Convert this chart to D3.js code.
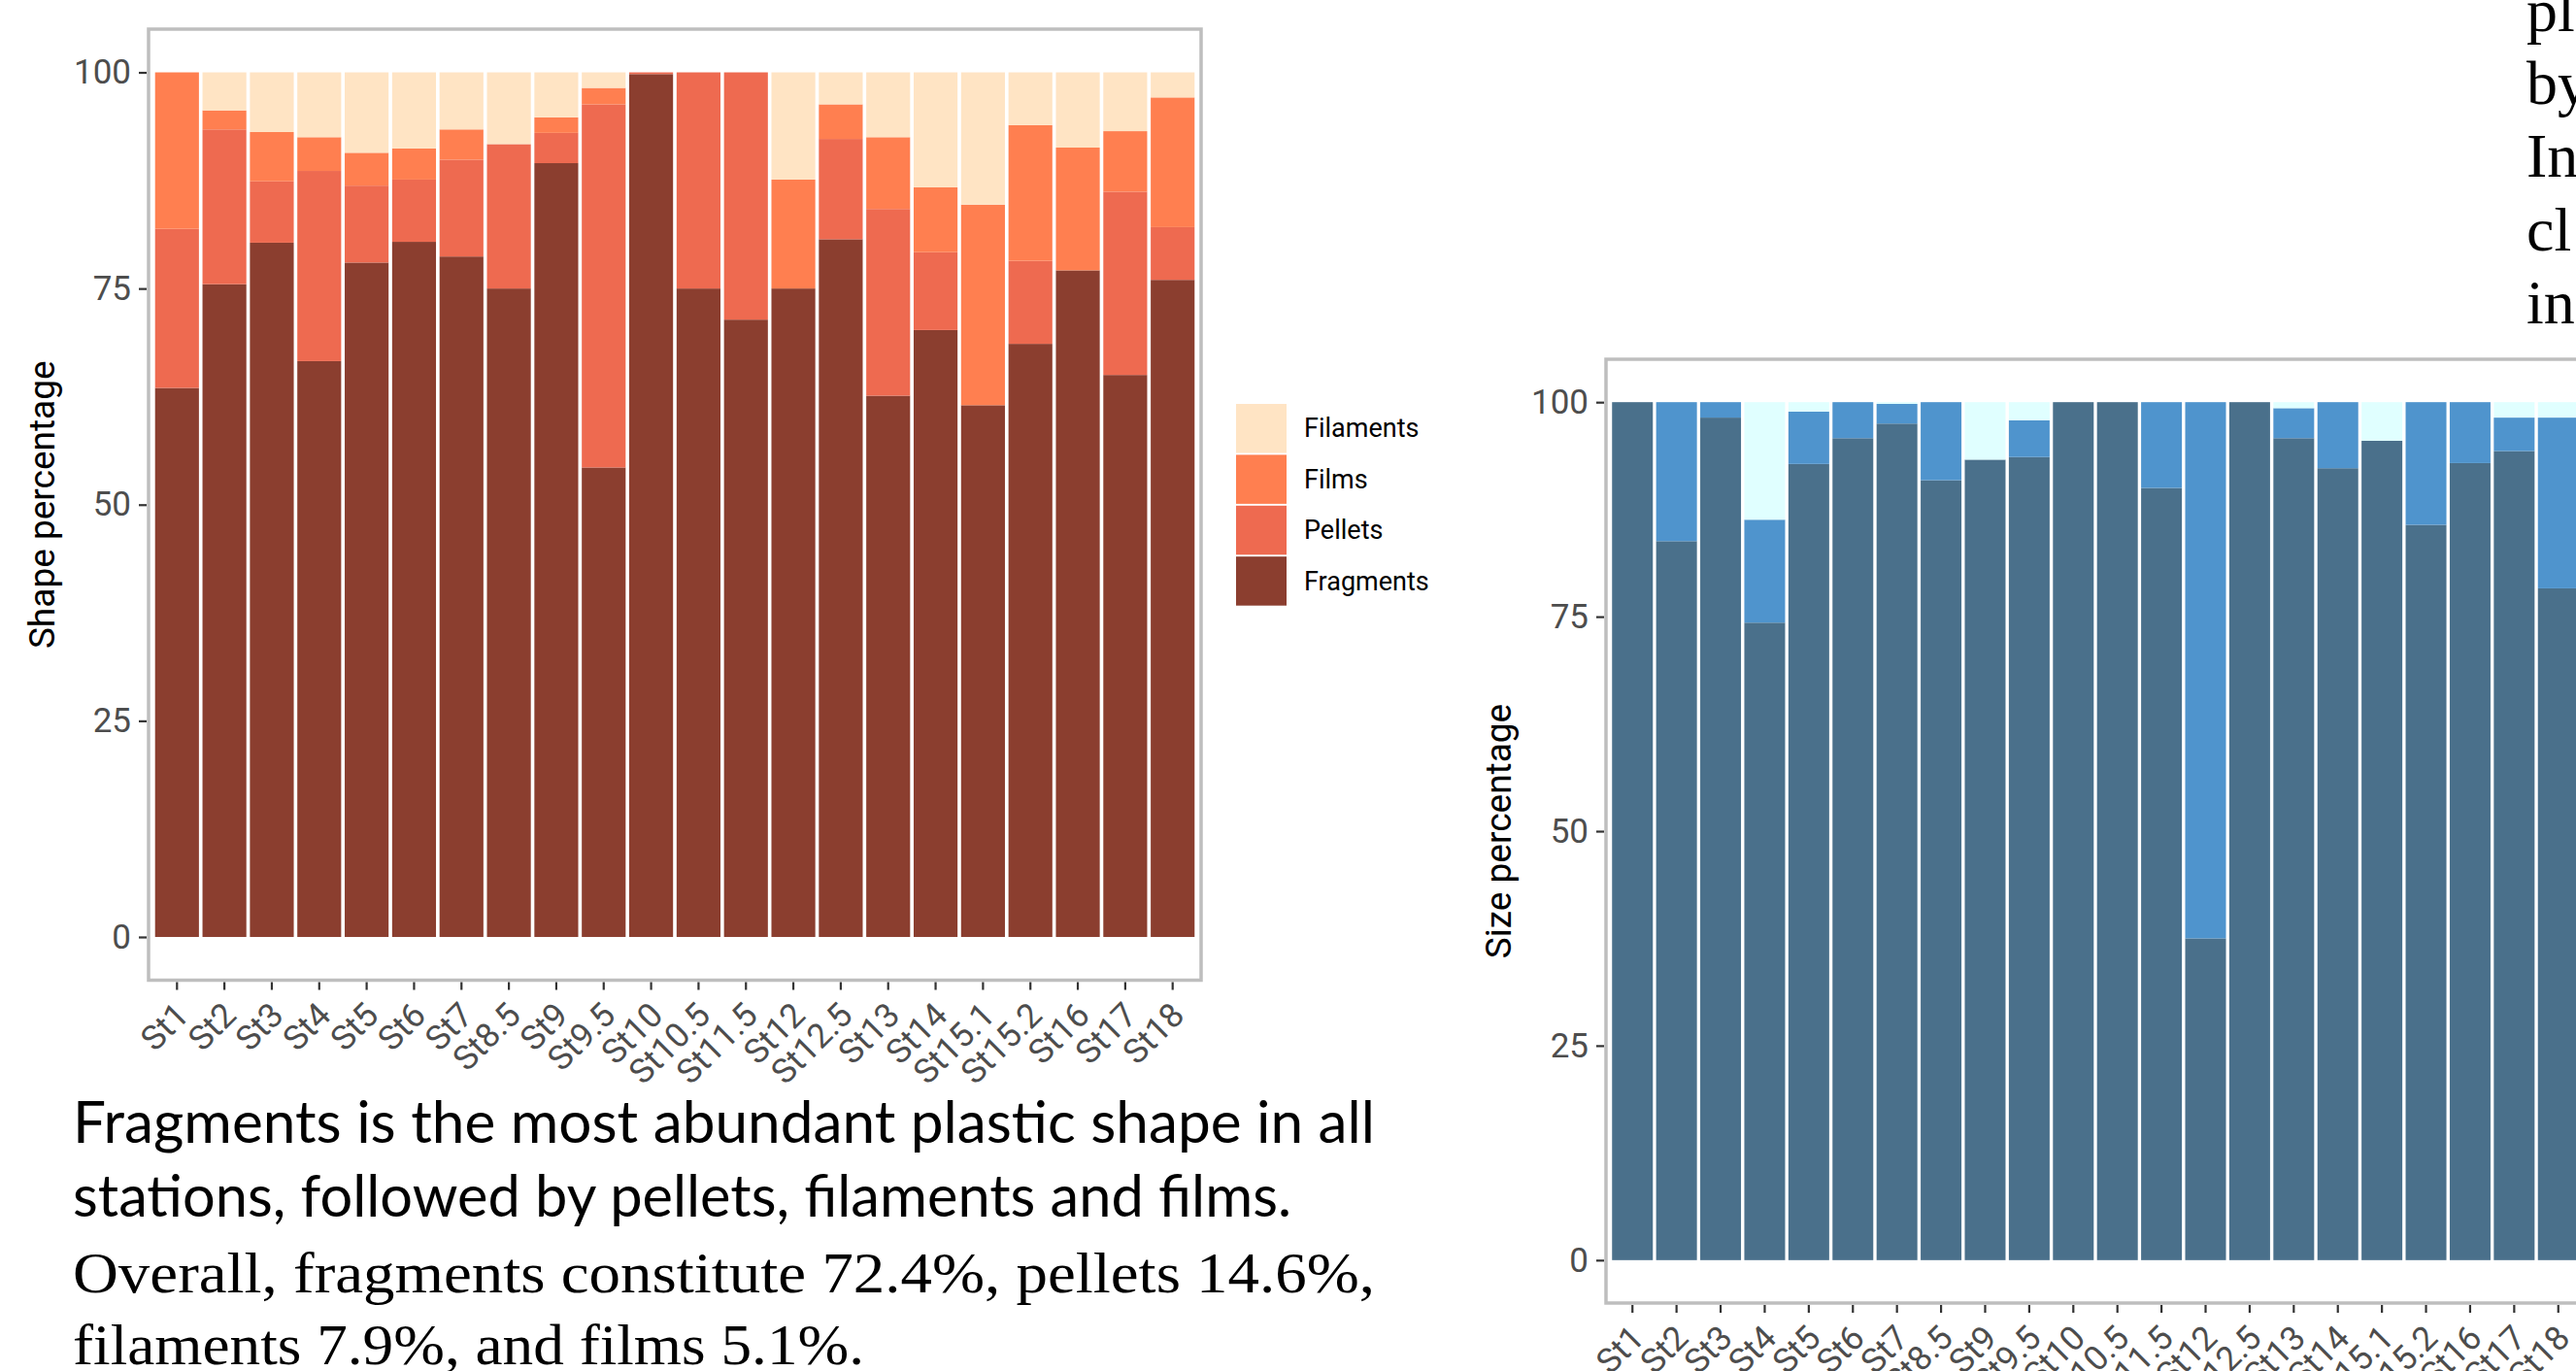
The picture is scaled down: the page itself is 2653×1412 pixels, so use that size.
<!DOCTYPE html>
<html>
<head>
<meta charset="utf-8">
<script src="https://cdn.jsdelivr.net/npm/d3@7"></script>
<style>
  body { margin: 0; background: #fff; }
  svg { display: block; }
</style>
</head>
<body>
<svg id="chart" width="2653" height="1412"></svg>
<script>
// stations on the x axis (same for both panels)
const stations = ["St1", "St2", "St3", "St4", "St5", "St6", "St7", "St8.5", "St9", "St9.5", "St10",
  "St10.5", "St11.5", "St12", "St12.5", "St13", "St14", "St15.1", "St15.2", "St16", "St17", "St18"];

// shape composition (%), stacked bottom -> top
const shapeKeys = ["Fragments", "Pellets", "Films", "Filaments"];
const fragments = [63.5, 75.5, 80.3, 66.6, 78.0, 80.4, 78.7, 75.0, 89.5, 54.3, 99.8, 75.0, 71.4, 75.0, 80.7, 62.6, 70.2, 61.5, 68.6, 77.1, 65.0, 76.0];
const pellets   = [18.4, 17.9, 7.1, 22.0, 8.9, 7.2, 11.2, 16.7, 3.5, 42.0, 0.2, 25.0, 28.6, 0, 11.6, 21.6, 9.0, 0, 9.6, 0, 21.2, 6.1];
const films     = [18.1, 2.2, 5.7, 3.9, 3.8, 3.6, 3.5, 0, 1.8, 1.9, 0, 0, 0, 12.6, 4.0, 8.3, 7.5, 23.2, 15.7, 14.2, 7.0, 15.0];
const filaments = [0, 4.4, 6.9, 7.5, 9.3, 8.8, 6.6, 8.3, 5.2, 1.8, 0, 0, 0, 12.4, 3.7, 7.5, 13.3, 15.3, 6.1, 8.7, 6.8, 2.9];

// size composition (%), stacked bottom -> top (legend is off the slide)
const sizeKeys = ["small", "medium", "large"];
const sizeSmall  = [100, 83.8, 98.2, 74.3, 92.8, 95.8, 97.5, 90.9, 93.3, 93.6, 100, 100, 90.0, 37.5, 100, 95.8, 92.3, 95.5, 85.7, 92.9, 94.3, 78.3];
const sizeMedium = [0, 16.2, 1.8, 12.0, 6.1, 4.2, 2.3, 9.1, 0, 4.3, 0, 0, 10.0, 62.5, 0, 3.5, 7.7, 0, 14.3, 7.1, 3.9, 19.9];
const sizeLarge  = [0, 0, 0, 13.7, 1.1, 0, 0.2, 0, 6.7, 2.1, 0, 0, 0, 0, 0, 0.7, 0, 4.5, 0, 0, 1.8, 1.8];

const yTicks = [0, 25, 50, 75, 100];

const shapeColors = {Fragments: "#8B3E2F", Pellets: "#EE6A50", Films: "#FF7F50", Filaments: "#FFE4C4"};
const sizeColors = {small: "#4A708B", medium: "#4F94CD", large: "#E0FFFF"};

const svg = d3.select("#chart");
svg.append("rect").attr("width", 2653).attr("height", 1412).attr("fill", "#fff");

function drawChart(o) {
  const g = svg.append("g");

  const x = d3.scaleBand()
    .domain(stations)
    .range([o.left, o.right])
    .paddingInner(0.075)
    .paddingOuter(0.1375);
  const y = d3.scaleLinear()
    .domain([-5, 105])
    .range([o.bottom, o.top]);

  const rows = stations.map((s, i) => {
    const r = {station: s};
    o.keys.forEach((k, j) => r[k] = o.series[j][i]);
    return r;
  });
  const stacked = d3.stack().keys(o.keys)(rows);

  g.selectAll("g.layer")
    .data(stacked)
    .join("g")
    .attr("class", "layer")
    .attr("fill", d => o.colors[d.key])
    .selectAll("rect")
    .data(d => d)
    .join("rect")
    .attr("x", d => x(d.data.station))
    .attr("width", x.bandwidth())
    .attr("y", d => y(d[1]))
    .attr("height", d => Math.max(0, y(d[0]) - y(d[1])));

  // panel border
  g.append("rect")
    .attr("x", o.left).attr("y", o.top)
    .attr("width", o.right - o.left).attr("height", o.bottom - o.top)
    .attr("fill", "none")
    .attr("stroke", "#BEBEBE")
    .attr("stroke-width", 3.5);

  // y axis
  const yAxis = g.append("g")
    .attr("transform", `translate(${o.left - 2},0)`)
    .call(d3.axisLeft(y).tickValues(yTicks).tickSize(8).tickPadding(8));
  yAxis.select(".domain").remove();
  yAxis.selectAll("line").attr("stroke", "#333").attr("stroke-width", 2.2);
  yAxis.selectAll("text")
    .attr("fill", "#4D4D4D")
    .style("font-family", "Roboto")
    .style("font-size", "35px");

  // x axis
  const xAxis = g.append("g")
    .attr("transform", `translate(0,${o.bottom + 2})`)
    .call(d3.axisBottom(x).tickSize(8));
  xAxis.select(".domain").remove();
  xAxis.selectAll("line").attr("stroke", "#333").attr("stroke-width", 2.2);
  xAxis.selectAll("text")
    .attr("x", 0).attr("y", 0).attr("dy", 0)
    .attr("text-anchor", "end")
    .attr("transform", "translate(14,36) rotate(-45)")
    .attr("fill", "#4D4D4D")
    .style("font-family", "Roboto")
    .style("font-size", "35px");

  // axis title
  g.append("text")
    .attr("transform", `translate(${o.titleX},${(o.top + o.bottom) / 2}) rotate(-90)`)
    .attr("text-anchor", "middle")
    .style("font-family", "Roboto")
    .style("font-size", "37px")
    .attr("fill", "#000")
    .text(o.title);
}

drawChart({
  left: 153, right: 1237, top: 30, bottom: 1009.5,
  keys: shapeKeys, series: [fragments, pellets, films, filaments],
  colors: shapeColors, title: "Shape percentage", titleX: 56
});

drawChart({
  left: 1654, right: 2662, top: 370, bottom: 1342,
  keys: sizeKeys, series: [sizeSmall, sizeMedium, sizeLarge],
  colors: sizeColors, title: "Size percentage", titleX: 1556
});

// legend for the shape chart
const legend = svg.append("g").attr("transform", "translate(1273,416)");
const legendItems = shapeKeys.slice().reverse();
legend.selectAll("rect")
  .data(legendItems)
  .join("rect")
  .attr("x", 0)
  .attr("y", (d, i) => i * 52.4)
  .attr("width", 52)
  .attr("height", 50.5)
  .attr("fill", d => shapeColors[d]);
legend.selectAll("text")
  .data(legendItems)
  .join("text")
  .attr("x", 70)
  .attr("y", (d, i) => i * 52.4 + 25)
  .attr("dy", "0.35em")
  .style("font-family", "Roboto")
  .style("font-size", "27px")
  .attr("fill", "#000")
  .text(d => d);

// slide text under the shape chart
const para = [
  {t: "Fragments is the most abundant plastic shape in all", y: 1177, w: 1341, f: "Lato", s: 60},
  {t: "stations, followed by pellets, filaments and films.", y: 1253, w: 1255, f: "Lato", s: 60},
  {t: "Overall, fragments constitute 72.4%, pellets 14.6%,", y: 1331, w: 1341, f: "Liberation Serif", s: 60},
  {t: "filaments 7.9%, and films 5.1%.", y: 1405, w: 815, f: "Liberation Serif", s: 60}
];
svg.selectAll("text.para")
  .data(para)
  .join("text")
  .attr("class", "para")
  .attr("x", 75)
  .attr("y", d => d.y)
  .attr("textLength", d => d.w)
  .attr("lengthAdjust", "spacingAndGlyphs")
  .style("font-family", d => d.f)
  .style("font-size", d => d.s + "px")
  .attr("fill", "#000")
  .text(d => d.t);

// clipped text column at the top right of the slide
const sideWords = ["pl", "by", "In", "cl", "in"];
svg.selectAll("text.side")
  .data(sideWords)
  .join("text")
  .attr("class", "side")
  .attr("x", 2602)
  .attr("y", (d, i) => 32 + i * 75.2)
  .style("font-family", "Liberation Serif")
  .style("font-size", "64px")
  .attr("fill", "#000")
  .text(d => d);
</script>
</body>
</html>
